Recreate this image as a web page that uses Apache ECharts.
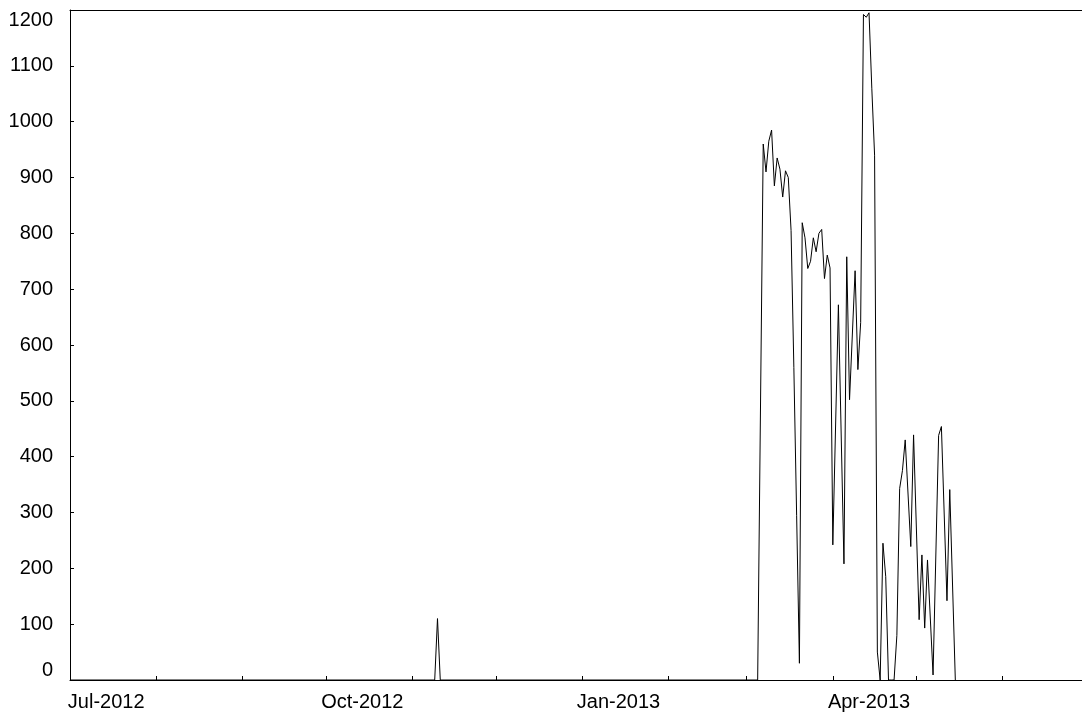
<!DOCTYPE html>
<html>
<head>
<meta charset="utf-8">
<script src="https://cdn.jsdelivr.net/npm/echarts@6/dist/echarts.min.js"></script>
<style>
html,body{margin:0;padding:0;background:#fff;}
#chart{width:1082px;height:713px;}
</style>
</head>
<body>
<div id="chart"></div>
<script>
var dates = [
  '2012-07-01','2012-11-09','2012-11-10','2012-11-11',
  '2013-03-05','2013-03-07','2013-03-08','2013-03-09','2013-03-10','2013-03-11','2013-03-12',
  '2013-03-13','2013-03-14','2013-03-15','2013-03-16','2013-03-17','2013-03-18','2013-03-19',
  '2013-03-20','2013-03-21','2013-03-22','2013-03-23','2013-03-24','2013-03-25','2013-03-26',
  '2013-03-27','2013-03-28','2013-03-29','2013-03-30','2013-03-31','2013-04-01','2013-04-03',
  '2013-04-05','2013-04-06','2013-04-07','2013-04-09','2013-04-10','2013-04-11','2013-04-12',
  '2013-04-13','2013-04-14','2013-04-15','2013-04-16','2013-04-17','2013-04-18','2013-04-19',
  '2013-04-20','2013-04-21','2013-04-22','2013-04-23','2013-04-24','2013-04-25','2013-04-26',
  '2013-04-27','2013-04-29','2013-04-30','2013-05-02','2013-05-03','2013-05-04','2013-05-05',
  '2013-05-07','2013-05-09','2013-05-10','2013-05-12','2013-05-13','2013-05-15'
];
var values = [
  0, 0, 110, 0,
  0, 960, 910, 965, 985, 885, 935,
  915, 865, 912, 900, 805, 560, 295,
  30, 819, 792, 737, 750, 792, 767,
  800, 807, 719, 761, 738, 242, 672,
  208, 758, 502, 733, 556, 640, 1192,
  1187, 1195, 1060, 940, 50, 0, 245,
  185, 0, 0, 0, 80, 343, 375,
  430, 239, 439, 108, 224, 93, 215,
  9, 438, 454, 142, 341, 0
];
var monthTicks = ['2012-07-01','2012-08-01','2012-09-01','2012-10-01','2012-11-01','2012-12-01',
  '2013-01-01','2013-02-01','2013-03-01','2013-04-01','2013-05-01','2013-06-01'];
var labelMonths = ['2012-07-01','2012-10-01','2013-01-01','2013-04-01'];
var yTicks = [0,100,200,300,400,500,600,700,800,900,1000,1100,1200];

var DAY = 86400000;
function ms(s){ return new Date(s + 'T00:00:00Z').getTime(); }
var MON = ['Jan','Feb','Mar','Apr','May','Jun','Jul','Aug','Sep','Oct','Nov','Dec'];
var xMin = ms('2012-07-01');
var xMax = xMin + 363.5 * DAY;

var seriesData = dates.map(function(d, i){ return [ms(d), values[i]]; });

var chart = echarts.init(document.getElementById('chart'), null, {renderer:'canvas'});
var font = 'Liberation Sans, Arial, Helvetica, sans-serif';
chart.setOption({
  animation: false,
  backgroundColor: '#fff',
  grid: {left: 70, top: 10, right: 0, bottom: 33, containLabel: false},
  xAxis: [{
    type: 'value',
    min: xMin, max: xMax,
    axisLine: {show: true, lineStyle: {color: '#000', width: 1}},
    axisTick: {show: true, inside: true, length: 4, lineStyle: {color: '#000'},
      customValues: monthTicks.map(ms)},
    axisLabel: {show: true, color: '#000', fontFamily: font, fontSize: 20, margin: 12,
      customValues: labelMonths.map(function(m){ return ms(m) + 13 * DAY; }),
      formatter: function(v){ var d = new Date(v); return MON[d.getUTCMonth()] + '-' + d.getUTCFullYear(); }},
    splitLine: {show: false}
  }, {
    type: 'value', position: 'top',
    min: xMin, max: xMax,
    axisLine: {show: true, onZero: false, lineStyle: {color: '#000', width: 1}},
    axisTick: {show: false}, axisLabel: {show: false}, splitLine: {show: false}
  }],
  yAxis: {
    type: 'value', min: 0, max: 1200, interval: 100,
    axisLine: {show: true, lineStyle: {color: '#000', width: 1}},
    axisTick: {show: true, inside: true, length: 4, lineStyle: {color: '#000'}},
    axisLabel: {color: '#000', fontFamily: font, fontSize: 20, margin: 17,
      customValues: yTicks,
      formatter: function(v){ return String(v); },
      verticalAlignMinLabel: 'bottom', verticalAlignMaxLabel: 'top'},
    splitLine: {show: false}
  },
  series: [{
    type: 'line',
    xAxisIndex: 0,
    data: seriesData,
    showSymbol: false,
    symbol: 'none',
    lineStyle: {color: '#000', width: 1},
    clip: true
  }]
});
</script>
</body>
</html>
